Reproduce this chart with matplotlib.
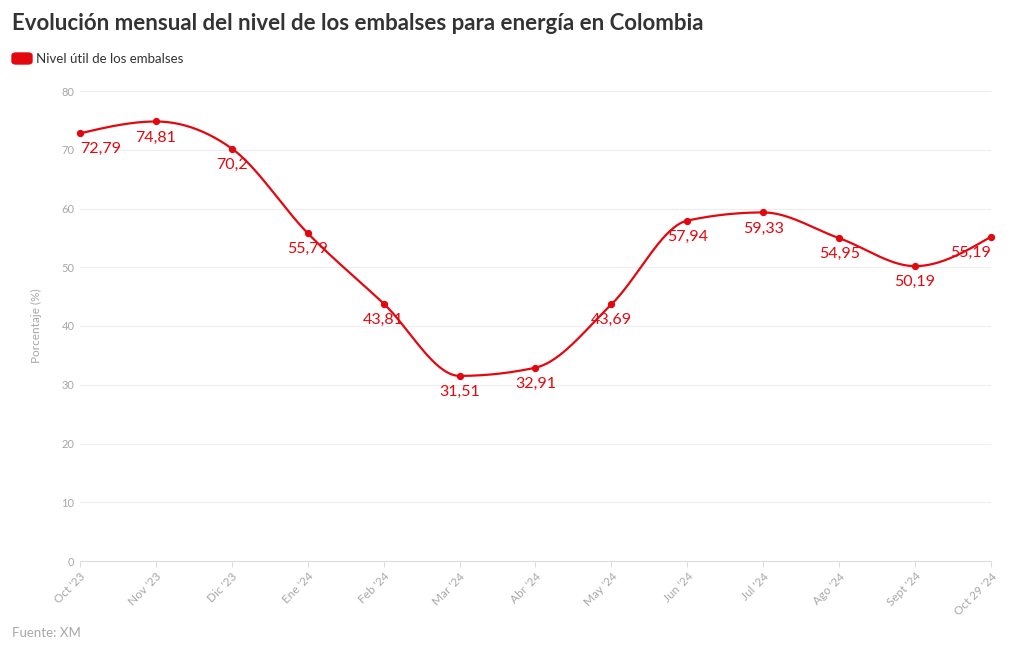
import numpy as np
import matplotlib.pyplot as plt
from matplotlib.patches import FancyBboxPatch

plt.rcParams['font.family'] = ['Lato', 'DejaVu Sans']

# Data
months = ["Oct '23", "Nov '23", "Dic '23", "Ene '24", "Feb '24", "Mar '24", "Abr '24",
          "May '24", "Jun '24", "Jul '24", "Ago '24", "Sept '24", "Oct 29 '24"]
nivel = [72.79, 74.81, 70.2, 55.79, 43.81, 31.51, 32.91, 43.69, 57.94, 59.33, 54.95, 50.19, 55.19]
labels = ['72,79', '74,81', '70,2', '55,79', '43,81', '31,51', '32,91',
          '43,69', '57,94', '59,33', '54,95', '50,19', '55,19']

RED = '#e3080f'
GRAY = '#a8a8a8'


def monotone_curve(x, y, n=40):
    # monotone cubic (like d3 curveMonotoneX)
    x = np.asarray(x, float)
    y = np.asarray(y, float)
    h = np.diff(x)
    d = np.diff(y) / h
    m = np.zeros_like(y)
    for i in range(1, len(y) - 1):
        if d[i - 1] * d[i] <= 0:
            m[i] = 0
        else:
            p = (d[i - 1] * h[i] + d[i] * h[i - 1]) / (h[i - 1] + h[i])
            m[i] = np.sign(d[i - 1]) * min(abs(d[i - 1]), abs(d[i]), 0.5 * abs(p)) * 2
    m[0] = (3 * d[0] - m[1]) / 2
    m[-1] = (3 * d[-1] - m[-2]) / 2
    xs, ys = [], []
    for i in range(len(x) - 1):
        t = np.linspace(0, 1, n)
        h00 = 2 * t**3 - 3 * t**2 + 1
        h10 = t**3 - 2 * t**2 + t
        h01 = -2 * t**3 + 3 * t**2
        h11 = t**3 - t**2
        xs.extend(x[i] + t * h[i])
        ys.extend(h00 * y[i] + h10 * h[i] * m[i] + h01 * y[i + 1] + h11 * h[i] * m[i + 1])
    return np.array(xs), np.array(ys)


fig = plt.figure(figsize=(10.2, 6.5), dpi=100)
ax = fig.add_axes([80 / 1020, 1 - 561 / 650, (991 - 80) / 1020, (561 - 91) / 650])

x = np.arange(len(months))
cx, cy = monotone_curve(x, nivel)
ax.plot(cx, cy, color=RED, lw=1.6, zorder=3, clip_on=False)
ax.scatter(x, nivel, s=18, color=RED, zorder=4, clip_on=False)

for i, (xv, yv, lab) in enumerate(zip(x, nivel, labels)):
    ha = 'center'
    if i == 0:
        ha = 'left'
    elif i == len(x) - 1:
        ha = 'right'
    ax.annotate(lab, (xv, yv), xytext=(0, -6.5), textcoords='offset points',
                ha=ha, va='top', color=RED, fontsize=11.5, zorder=5)

ax.set_xlim(0, len(x) - 1)
ax.set_ylim(0, 80)
ax.set_yticks(range(0, 81, 10))
ax.set_xticks(x)
ax.set_xticklabels(months, rotation=45, ha='right', rotation_mode='anchor')
ax.tick_params(axis='x', colors='#dddddd', labelcolor=GRAY, labelsize=8.5, length=4, pad=3)
ax.tick_params(axis='y', length=0, labelcolor=GRAY, labelsize=8, pad=4)
ax.grid(axis='y', color='#eeeeee', lw=0.8)
ax.set_axisbelow(True)
for s in ['top', 'right', 'left']:
    ax.spines[s].set_visible(False)
ax.spines['bottom'].set_color('#dddddd')
ax.set_ylabel('Porcentaje (%)', color=GRAY, fontsize=8.5, labelpad=14)

fig.text(12 / 1020, 1 - 24 / 650, 'Evolución mensual del nivel de los embalses para energía en Colombia',
         fontsize=16, fontweight='bold', color='#333333', va='center', ha='left')
fig.patches.append(FancyBboxPatch((12 / 1020, 1 - 64 / 650), 20 / 1020, 11 / 650,
                                  boxstyle='round,pad=0,rounding_size=0.004',
                                  transform=fig.transFigure, color=RED, figure=fig))
fig.text(36 / 1020, 1 - 59 / 650, 'Nivel útil de los embalses', fontsize=9.5,
         color='#333333', va='center', ha='left')
fig.text(12 / 1020, 1 - 633 / 650, 'Fuente: XM', fontsize=9.5, color=GRAY, va='center', ha='left')

fig.savefig('out.png', dpi=100)
